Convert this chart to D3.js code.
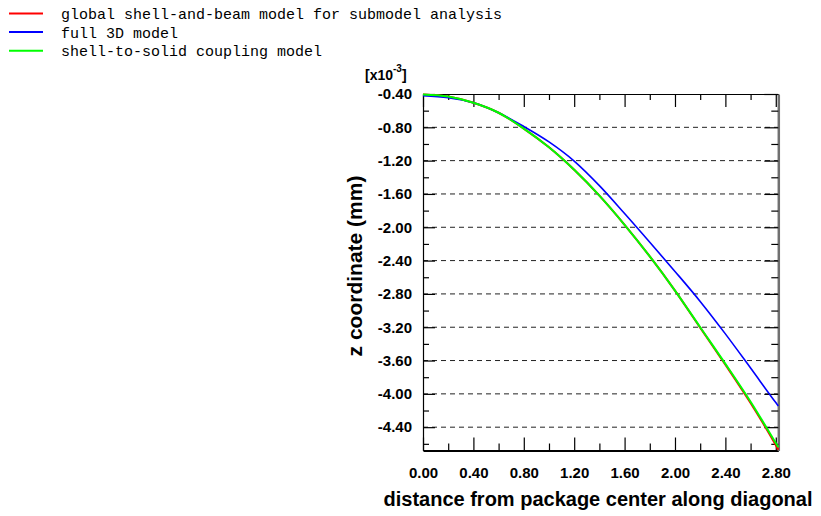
<!DOCTYPE html>
<html>
<head>
<meta charset="utf-8">
<script src="https://cdn.jsdelivr.net/npm/d3@7"></script>
<style>
  body { margin: 0; background: #fff; }
  svg { display: block; }
</style>
</head>
<body>
<div id="chart"></div>
<script>
// distance along the diagonal, shared by all three curves
const distance = [0.0, 0.2, 0.4, 0.6, 0.8, 1.0, 1.2, 1.4, 1.6, 1.8, 2.0, 2.2, 2.4, 2.6, 2.8, 2.82];
// z coordinate values, [x10^-3] mm
const shellBeam = [-0.405, -0.43, -0.505, -0.625, -0.815, -1.04, -1.31, -1.62, -1.97, -2.35, -2.76, -3.205, -3.65, -4.11, -4.615, -4.67];
const full3D = [-0.42, -0.445, -0.505, -0.625, -0.79, -0.975, -1.205, -1.50, -1.835, -2.18, -2.53, -2.89, -3.28, -3.69, -4.105, -4.145];
const shellSolid = [-0.405, -0.43, -0.505, -0.625, -0.815, -1.04, -1.31, -1.62, -1.97, -2.35, -2.76, -3.20, -3.64, -4.095, -4.59, -4.64];

const seriesNames = [
    "global shell-and-beam model for submodel analysis",
    "full 3D model",
    "shell-to-solid coupling model"
];
const seriesColors = ["#ff0000", "#0000ff", "#00ff00"];

const xMajor = [0, 0.4, 0.8, 1.2, 1.6, 2.0, 2.4, 2.8];
const xMinor = [0.2, 0.6, 1.0, 1.4, 1.8, 2.2, 2.6];
const yMajor = [-0.4, -0.8, -1.2, -1.6, -2.0, -2.4, -2.8, -3.2, -3.6, -4.0, -4.4];
const yMinor = [-0.6, -1.0, -1.4, -1.8, -2.2, -2.6, -3.0, -3.4, -3.8, -4.2, -4.6];

const W = 821, H = 516;
const plot = { left: 423, right: 778.3, top: 94, bottom: 450.5 };
const labelFont = '"Liberation Sans", Arial, sans-serif';

const svg = d3.select("#chart")
    .append("svg")
    .attr("width", W)
    .attr("height", H);

const x = d3.scaleLinear().domain([0, 2.82]).range([plot.left, plot.right]);
const y = d3.scaleLinear().domain([-4.68, -0.40]).range([plot.bottom, plot.top]);

// dashed horizontal grid at major y ticks
svg.append("g")
    .selectAll("line")
    .data(yMajor.slice(1))
    .enter()
    .append("line")
    .attr("x1", plot.left)
    .attr("x2", plot.right)
    .attr("y1", d => y(d))
    .attr("y2", d => y(d))
    .attr("stroke", "#222")
    .attr("stroke-width", 1)
    .attr("stroke-dasharray", "5,4");

// plain hyphen for the minus sign, like the original
const fmt = d => d3.format(".2f")(d).replace("\u2212", "-");

function styleAxis(g, color, width) {
    g.select(".domain").attr("stroke", color).attr("stroke-width", width);
    g.selectAll(".tick line").attr("stroke", "#000").attr("stroke-width", 1.2);
    g.selectAll("text")
        .attr("fill", "#000")
        .style("font-family", labelFont)
        .style("font-weight", "bold")
        .style("font-size", "15px");
}

// left axis
svg.append("g")
    .attr("transform", "translate(" + plot.left + ",0)")
    .call(d3.axisLeft(y).tickValues(yMajor).tickFormat(fmt).tickSizeInner(-12).tickSizeOuter(0).tickPadding(11))
    .call(g => styleAxis(g, "#000", 1.2));
svg.append("g")
    .attr("transform", "translate(" + plot.left + ",0)")
    .call(d3.axisLeft(y).tickValues(yMinor).tickFormat("").tickSizeInner(-6).tickSizeOuter(0))
    .call(g => styleAxis(g, "none", 0));

// bottom axis
svg.append("g")
    .attr("transform", "translate(0," + plot.bottom + ")")
    .call(d3.axisBottom(x).tickValues(xMajor).tickFormat(fmt).tickSizeInner(-13).tickSizeOuter(0).tickPadding(17))
    .call(g => styleAxis(g, "#000", 2));
svg.append("g")
    .attr("transform", "translate(0," + plot.bottom + ")")
    .call(d3.axisBottom(x).tickValues(xMinor).tickFormat("").tickSizeInner(-7).tickSizeOuter(0))
    .call(g => styleAxis(g, "none", 0));

// top axis
svg.append("g")
    .attr("transform", "translate(0," + plot.top + ")")
    .call(d3.axisTop(x).tickValues(xMajor).tickFormat("").tickSizeInner(-13).tickSizeOuter(0))
    .call(g => styleAxis(g, "#000", 1.2));
svg.append("g")
    .attr("transform", "translate(0," + plot.top + ")")
    .call(d3.axisTop(x).tickValues(xMinor).tickFormat("").tickSizeInner(-6).tickSizeOuter(0))
    .call(g => styleAxis(g, "none", 0));

// right axis
svg.append("g")
    .attr("transform", "translate(" + plot.right + ",0)")
    .call(d3.axisRight(y).tickValues(yMajor).tickFormat("").tickSizeInner(-14).tickSizeOuter(0))
    .call(g => styleAxis(g, "#707070", 2.5));
svg.append("g")
    .attr("transform", "translate(" + plot.right + ",0)")
    .call(d3.axisRight(y).tickValues(yMinor).tickFormat("").tickSizeInner(-7).tickSizeOuter(0))
    .call(g => styleAxis(g, "none", 0));

// curves, red under blue under green
const line = d3.line()
    .x((d, i) => x(distance[i]))
    .y(d => y(d))
    .curve(d3.curveMonotoneX);

const seriesData = [shellBeam, full3D, shellSolid];
const widths = [2, 1.6, 2];
svg.append("g")
    .selectAll("path")
    .data(seriesData)
    .enter()
    .append("path")
    .attr("d", d => line(d))
    .attr("fill", "none")
    .attr("stroke", (d, i) => seriesColors[i])
    .attr("stroke-width", (d, i) => widths[i]);

// multiplier label
const mult = svg.append("text")
    .attr("x", 365)
    .attr("y", 80)
    .style("font-family", labelFont)
    .style("font-weight", "bold")
    .style("font-size", "14px");
mult.append("tspan").text("[x10");
mult.append("tspan").attr("dy", -8).style("font-size", "10px").text("-3");
mult.append("tspan").attr("dy", 8).text("]");

// axis titles
svg.append("text")
    .attr("x", 598)
    .attr("y", 506)
    .attr("text-anchor", "middle")
    .style("font-family", labelFont)
    .style("font-weight", "bold")
    .style("font-size", "20px")
    .text("distance from package center along diagonal");

svg.append("text")
    .attr("transform", "translate(362,266)rotate(-90)")
    .attr("text-anchor", "middle")
    .style("font-family", labelFont)
    .style("font-weight", "bold")
    .style("font-size", "21px")
    .text("z coordinate (mm)");

// legend
const legend = svg.append("g")
    .selectAll("g")
    .data(seriesNames)
    .enter()
    .append("g")
    .attr("transform", (d, i) => "translate(0," + (i * 18.6) + ")");
legend.append("line")
    .attr("x1", 9)
    .attr("x2", 43)
    .attr("y1", 13.5)
    .attr("y2", 13.5)
    .attr("stroke", (d, i) => seriesColors[i])
    .attr("stroke-width", 2);
legend.append("text")
    .attr("x", 61)
    .attr("y", 19)
    .style("font-family", '"Liberation Mono", "Courier New", monospace')
    .style("font-size", "15px")
    .attr("fill", "#000")
    .text(d => d);
</script>
</body>
</html>
